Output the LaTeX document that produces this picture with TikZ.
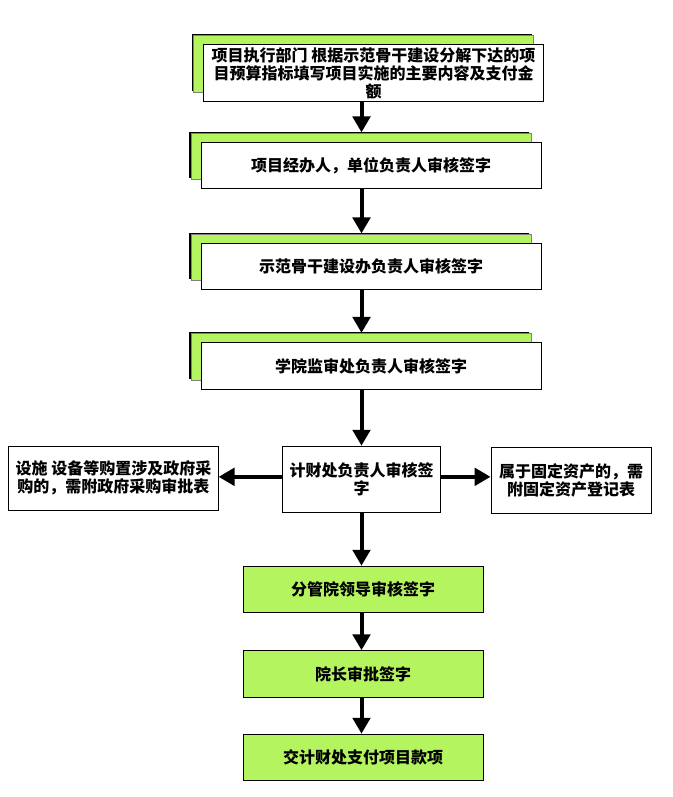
\documentclass[tikz,border=0pt]{standalone}
\usepackage{fontspec}
\newfontfamily\cjk{Noto Sans CJK SC}
\usetikzlibrary{arrows.meta,shadows}
\definecolor{lime}{RGB}{180,245,95}

\begin{document}
\begin{tikzpicture}[x=0.75pt,y=-0.75pt]
	\tikzstyle{every node}=[draw,line width=0.6pt,align=center,inner sep=2pt,
	font=\cjk\bfseries\fontsize{12}{13.5}\selectfont]
	\tikzstyle{stack}=[fill=white,minimum width=255pt,minimum height=35pt,
	general shadow={fill=black,shadow xshift=-8.8pt,shadow yshift=8pt},
	general shadow={fill=lime,draw=gray,line width=0.6pt,shadow xshift=-7.5pt,shadow yshift=6.8pt}]
	\tikzstyle{plain}=[fill=white]
	\tikzstyle{lead}=[fill=lime,minimum width=180pt,minimum height=35pt]
	\tikzstyle{arr}=[line width=3pt,-{Triangle[width=13pt,length=12pt]}]
	\useasboundingbox (0,0) rectangle (673,797);
	% stacked boxes
	\node[stack,minimum height=42pt] (plan) at (373.5,73) {项目执行部门 根据示范骨干建设分解下达的项\\目预算指标填写项目实施的主要内容及支付金\\额};
	\node[stack] (sign) at (371,165.5) {项目经办人，单位负责人审核签字};
	\node[stack] (dept) at (371,266.5) {示范骨干建设办负责人审核签字};
	\node[stack] (audit) at (371,366) {学院监审处负责人审核签字};
	% finance and side notes
	\node[plain,minimum width=119pt,minimum height=50pt] (fin) at (361.5,479.5) {计财处负责人审核签\\字};
	\node[plain,minimum width=157pt,minimum height=48pt] (buy) at (113.5,478) {设施 设备等购置涉及政府采\\购的，需附政府采购审批表};
	\node[plain,minimum width=120pt,minimum height=49.5pt] (asset) at (571,480) {属于固定资产的，需\\附固定资产登记表};
	% green boxes
	\node[lead] (vice) at (363,589.5) {分管院领导审核签字};
	\node[lead] (dean) at (363,674) {院长审批签字};
	\node[lead] (pay) at (363,757.5) {交计财处支付项目款项};
	% arrows
	\draw[arr] (plan.south -| fin.north) -- ([yshift=7pt]sign.north -| fin.north);
	\draw[arr] (sign.south -| fin.north) -- ([yshift=7pt]dept.north -| fin.north);
	\draw[arr] (dept.south -| fin.north) -- ([yshift=7pt]audit.north -| fin.north);
	\draw[arr] (audit.south -| fin.north) -- (fin.north);
	\draw[arr] ([yshift=2pt]fin.west) -- ([yshift=2pt]fin.west -| buy.east);
	\draw[arr] ([yshift=2pt]fin.east) -- ([yshift=2pt]fin.east -| asset.west);
	\draw[arr] (fin.south) -- (fin.south |- vice.north);
	\draw[arr] (vice.south -| fin.south) -- (fin.south |- dean.north);
	\draw[arr] (dean.south -| fin.south) -- (fin.south |- pay.north);
\end{tikzpicture}
\end{document}
